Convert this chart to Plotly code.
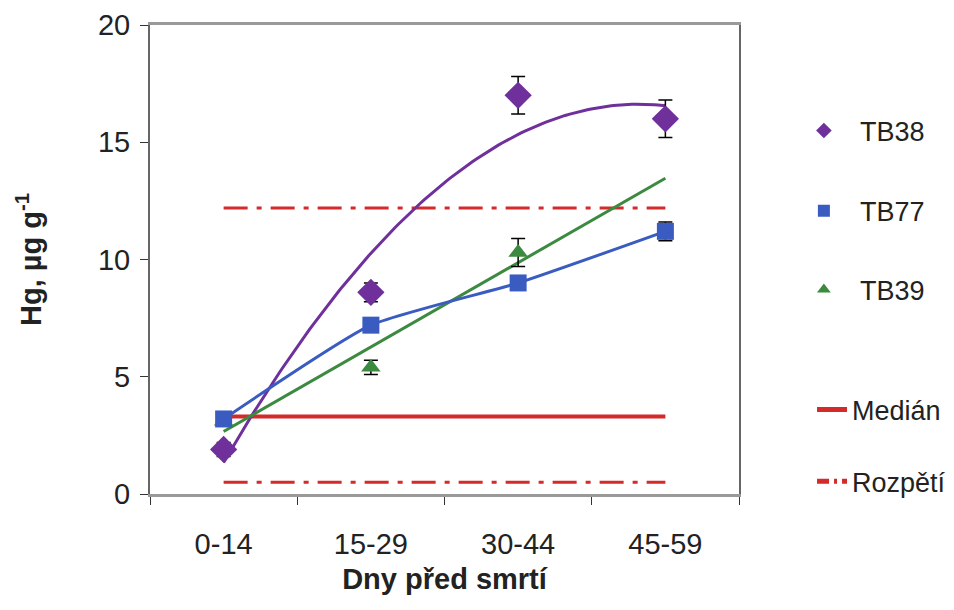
import numpy as np
import plotly.graph_objects as go

categories = ["0-14", "15-29", "30-44", "45-59"]
tb38 = [1.9, 8.6, 17.0, 16.0]
tb38_err = [0.3, 0.4, 0.8, 0.8]
tb77 = [3.2, 7.2, 9.0, 11.2]
tb77_err = [0.2, 0.2, 0.3, 0.4]
tb39 = [3.1, 5.4, 10.3]
tb39_err = [0.2, 0.3, 0.6]
median_val = 3.3
range_low = 0.5
range_high = 12.2

PURPLE = "#70309C"
BLUE = "#3A5CC0"
GREEN = "#3C8A40"
RED = "#D42A2A"

xi = list(range(len(categories)))
fig = go.Figure()

# Rozpětí (range) lines
for v in [range_high, range_low]:
    fig.add_trace(go.Scatter(
        x=[xi[0], xi[-1]], y=[v, v], mode="lines",
        line=dict(color=RED, width=3, dash="24px,9px,5px,9px"),
        name="Rozpětí", showlegend=False, hoverinfo="skip"))
# legend sample for Rozpětí (no data, legend only)
fig.add_trace(go.Scatter(
    x=[None], y=[None], mode="lines",
    line=dict(color=RED, width=3, dash="12px,5px,3px,5px"),
    name="Rozpětí", legend="legend5"))

# Medián line
fig.add_trace(go.Scatter(
    x=xi, y=[median_val] * len(xi), mode="lines",
    line=dict(color=RED, width=4), name="Medián", legend="legend4"))

# TB38 polynomial (order 2) trendline
c38 = np.polyfit(xi, tb38, 2)
xs = np.linspace(xi[0], xi[-1], 120)
fig.add_trace(go.Scatter(x=xs, y=np.polyval(c38, xs), mode="lines",
                         line=dict(color=PURPLE, width=3), showlegend=False, hoverinfo="skip"))

# TB39 linear trendline (extended to last category)
x39 = xi[:len(tb39)]
c39 = np.polyfit(x39, tb39, 1)
fig.add_trace(go.Scatter(x=[xi[0], xi[-1]], y=np.polyval(c39, [xi[0], xi[-1]]), mode="lines",
                         line=dict(color=GREEN, width=3), showlegend=False, hoverinfo="skip"))

# TB77 smoothed line
fig.add_trace(go.Scatter(x=xi, y=tb77, mode="lines",
                         line=dict(color=BLUE, width=3, shape="spline", smoothing=0.5),
                         showlegend=False, hoverinfo="skip"))

# markers
err_style = dict(type="data", visible=True, color="black", thickness=1.5, width=7)
fig.add_trace(go.Scatter(x=x39, y=tb39, mode="markers", name="TB39", legend="legend3",
                         marker=dict(symbol="triangle-up", size=17, color=GREEN),
                         error_y=dict(array=tb39_err, **err_style)))
fig.add_trace(go.Scatter(x=xi, y=tb77, mode="markers", name="TB77", legend="legend2",
                         marker=dict(symbol="square", size=17, color=BLUE),
                         error_y=dict(array=tb77_err, **err_style)))
fig.add_trace(go.Scatter(x=xi, y=tb38, mode="markers", name="TB38", legend="legend",
                         marker=dict(symbol="diamond", size=21, color=PURPLE),
                         error_y=dict(array=tb38_err, **err_style)))

FONT = "Liberation Sans, Arial"
leg_font = dict(family=FONT, size=27, color="#222")
def leg(x, y, itemwidth):
    return dict(x=x, y=y, xanchor="left", yanchor="middle", font=leg_font,
                bgcolor="rgba(0,0,0,0)", itemsizing="constant", itemwidth=itemwidth)

fig.update_layout(
    width=954, height=610,
    margin=dict(l=142, r=223, t=17, b=124, autoexpand=False),
    paper_bgcolor="white", plot_bgcolor="white",
    font=dict(family=FONT, size=29, color="#222"),
    legend=leg(1.083, 0.774, 62), legend2=leg(1.083, 0.603, 62), legend3=leg(1.083, 0.435, 62),
    legend4=leg(1.124, 0.179, 30), legend5=leg(1.124, 0.026, 30),
    xaxis=dict(range=[-0.5, 3.5], tickvals=xi, ticktext=categories, ticks="",
               showline=True, linecolor="#999", linewidth=3, mirror=True,
               showgrid=False, zeroline=False, automargin=False,
               minor=dict(tick0=-0.5, dtick=1, ticks="outside", ticklen=8, tickcolor="#333"),
               tickfont=dict(size=29), ticklabelstandoff=22,
               title=dict(text="<b>Dny před smrtí</b>", font=dict(size=29), standoff=10)),
    yaxis=dict(range=[0, 20], dtick=5, ticks="outside", ticklen=8, tickcolor="#333",
               showline=True, linecolor="#666", linewidth=2, mirror=True,
               showgrid=False, zeroline=False, automargin=False,
               tickfont=dict(size=29), ticklabelstandoff=4,
               title=dict(text="<b>Hg, µg g<sup>-1</sup></b>", font=dict(size=29), standoff=48)),
)

fig.write_html("out.html")
